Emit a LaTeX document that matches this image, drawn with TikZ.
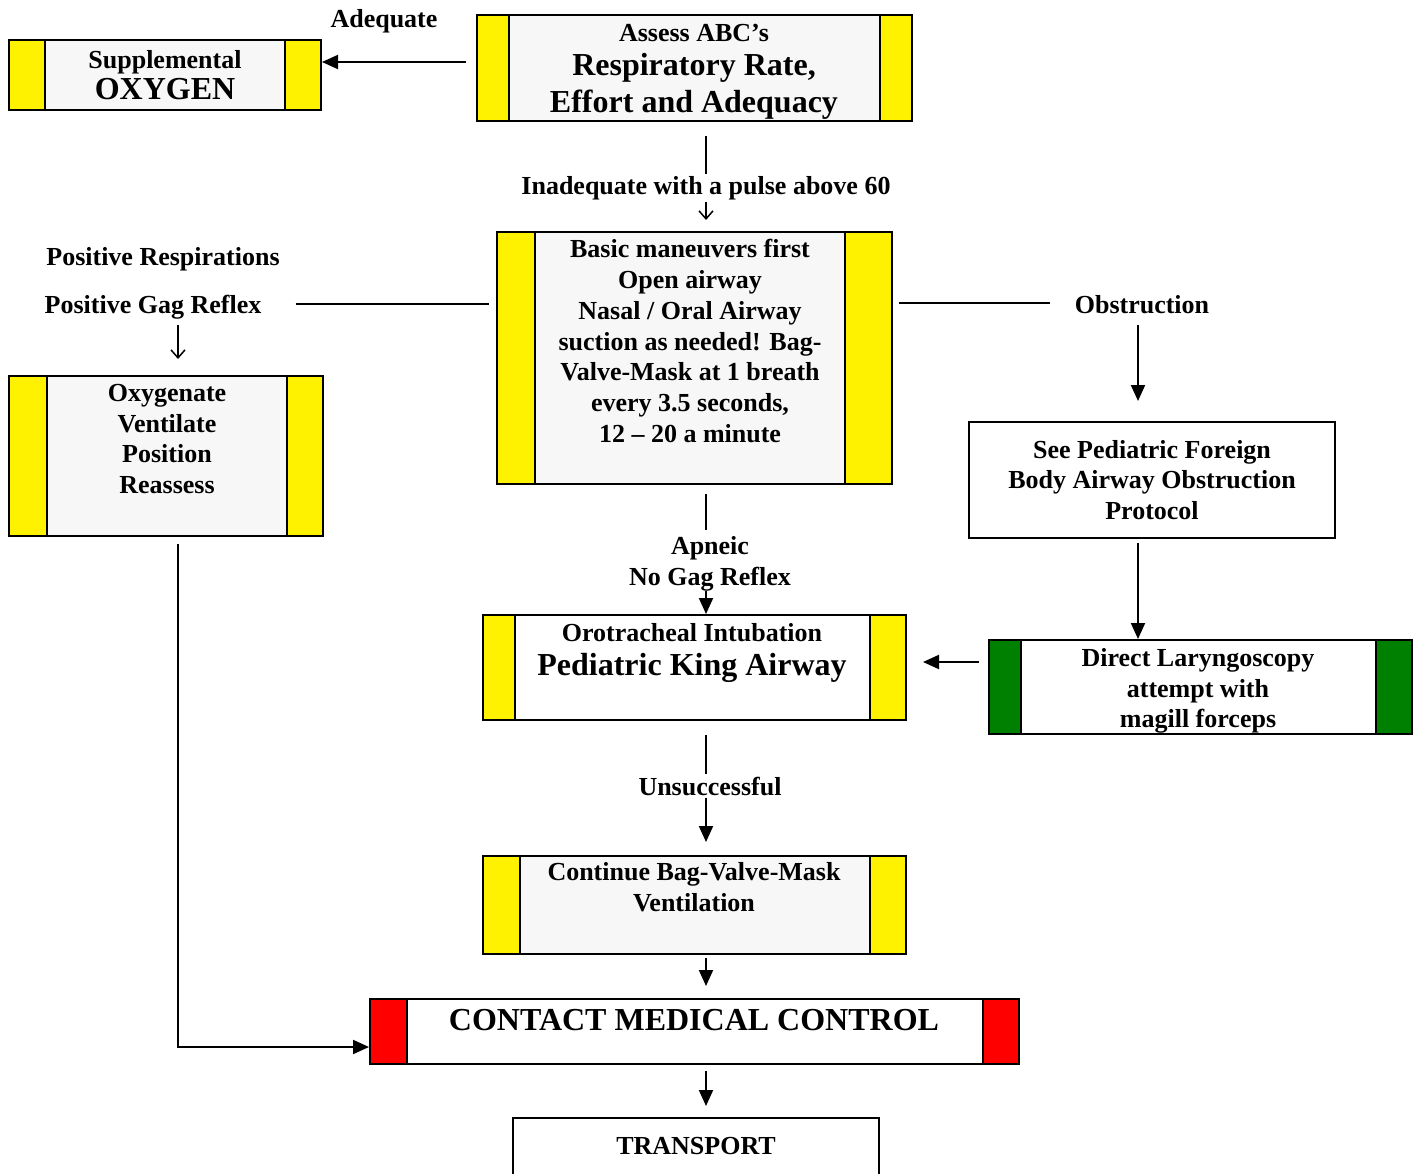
\documentclass[tikz,border=0pt]{standalone}
\usepackage{fontspec}
\setmainfont{Liberation Serif}
\usetikzlibrary{arrows.meta}
\definecolor{boxgray}{HTML}{F7F7F7}
\definecolor{bargreen}{HTML}{008000}
\newcommand{\fsmall}{\fontsize{26}{30.8}\selectfont}
\newcommand{\fbig}{\fontsize{32}{37}\selectfont}

\begin{document}
\begin{tikzpicture}[x=1pt,y=-1pt,
    box/.style={draw,line width=2pt,inner sep=0pt,fill=boxgray},
    bars/.style n args={3}{path picture={
      \draw[fill=#1,line width=2pt] (path picture bounding box.north west) rectangle ([xshift=#2]path picture bounding box.south west);
      \draw[fill=#1,line width=2pt] (path picture bounding box.north east) rectangle ([xshift=-#3]path picture bounding box.south east);}},
    txt/.style={font=\fsmall\bfseries,align=center,inner sep=2pt},
    big/.style={font=\fbig\bfseries,align=center,inner sep=2pt},
    link/.style={line width=1.5pt},
    arr/.style={line width=2pt,-{Triangle[length=16pt,width=14pt]}},
    barb/.style={line width=1.5pt,-{Straight Barb[length=8pt,width=14pt]}}]
    \useasboundingbox (0,0) rectangle (1419,1173);
    \clip (0,0) rectangle (1419,1173);

    % boxes
    \node[box,bars={yellow}{36pt}{36pt},minimum width=312pt,minimum height=70pt] (supp) at (165,75) {};
    \node[box,bars={yellow}{32pt}{32pt},minimum width=435pt,minimum height=106pt] (assess) at (694.5,68) {};
    \node[box,bars={yellow}{38pt}{47pt},minimum width=395pt,minimum height=252pt] (basic) at (694.5,358) {};
    \node[box,bars={yellow}{38pt}{36pt},minimum width=314pt,minimum height=160pt] (oxy) at (166,456) {};
    \node[box,fill=white,minimum width=366pt,minimum height=116pt] (seeped) at (1152,480) {};
    \node[box,fill=white,bars={bargreen}{32pt}{36pt},minimum width=423pt,minimum height=94pt] (direct) at (1200.5,687) {};
    \node[box,fill=white,bars={yellow}{32pt}{36pt},minimum width=423pt,minimum height=105pt] (oro) at (694.5,667.5) {};
    \node[box,bars={yellow}{37pt}{36pt},minimum width=423pt,minimum height=98pt] (cont) at (694.5,905) {};
    \node[box,fill=white,bars={red}{37pt}{36pt},minimum width=649pt,minimum height=65pt] (contact) at (694.5,1031.5) {};
    \node[box,fill=white,minimum width=366pt,minimum height=80pt] (transport) at (696,1158) {};

    % box texts
    \node[txt] (supptxt) at (165,75) {Supplemental\\{\fbig OXYGEN}};
    \node[big] (assesstxt) at (694,72) {{\fsmall Assess ABC’s}\\[-3pt]Respiratory Rate,\\Effort and Adequacy};
    \node[txt] (basictxt) at (690,341) {Basic maneuvers first\\Open airway\\Nasal / Oral Airway\\suction as needed! Bag-\\Valve-Mask at 1 breath\\every 3.5 seconds,\\12 -- 20 a minute};
    \node[txt] (oxytxt) at (167,439) {Oxygenate\\Ventilate\\Position\\Reassess};
    \node[txt] (seepedtxt) at (1152,480) {See Pediatric Foreign\\Body Airway Obstruction\\Protocol};
    \node[txt] (directtxt) at (1198,691) {Direct Laryngoscopy\\attempt with\\magill forceps};
    \node[big] (orotxt) at (692,653.5) {{\fsmall Orotracheal Intubation}\\[-3pt]Pediatric King Airway};
    \node[txt] (conttxt) at (694,887) {Continue Bag-Valve-Mask\\Ventilation};
    \node[big] (contacttxt) at (694,1020) {CONTACT MEDICAL CONTROL};
    \node[txt] (transporttxt) at (696,1146) {TRANSPORT};

    % labels
    \node[txt] (adequate) at (384,21) {Adequate};
    \node[txt] (inadequate) at (706,188) {Inadequate with a pulse above 60};
    \node[txt] (posresp) at (163,259) {Positive Respirations};
    \node[txt] (posgag) at (153,307) {Positive Gag Reflex};
    \node[txt] (obstruction) at (1142,305) {Obstruction};
    \node[txt] (apneic) at (710,564) {Apneic\\No Gag Reflex};
    \node[txt] (unsucc) at (710,786) {Unsuccessful};

    \coordinate (spine) at (706,0);
    \coordinate (gagdown) at (178,325);
    \coordinate (obsdown) at (1138,325);

    % connectors
    \draw[arr] ([xshift=-10pt,yshift=6pt]assess.west) -- ([yshift=13pt]supp.east);
    \draw[link] ([yshift=-14pt]spine |- assess.south) -- (spine |- inadequate.north);
    \draw[barb] (spine |- inadequate.south) -- ([yshift=11pt]spine |- basic.north);
    \draw[link] ([xshift=32pt,yshift=3pt]posgag.east) -- ([xshift=-7pt,yshift=3pt]basic.west |- posgag.east);
    \draw[barb] (gagdown) -- ([yshift=16pt]gagdown |- oxy.north);
    \draw[arr] ([yshift=-7pt]gagdown |- oxy.south) |- ([yshift=-15.5pt]contact.west);
    \draw[link] ([xshift=6pt,yshift=2pt]basic.east |- obstruction.west) -- ([xshift=-23pt,yshift=2pt]obstruction.west);
    \draw[arr] (obsdown) -- ([yshift=20pt]obsdown |- seeped.north);
    \draw[arr] ([yshift=-4pt]obsdown |- seeped.south) -- (obsdown |- direct.north);
    \draw[arr] ([xshift=-9pt,yshift=25pt]direct.west) -- ([xshift=16pt,yshift=5.5pt]oro.east);
    \draw[link] ([yshift=-9pt]spine |- basic.south) -- ([yshift=5pt]spine |- apneic.north);
    \draw[arr] ([yshift=2pt]spine |- apneic.south) -- (spine |- oro.north);
    \draw[link] ([yshift=-14pt]spine |- oro.south) -- (spine |- unsucc.north);
    \draw[arr] (spine |- unsucc.south) -- ([yshift=13pt]spine |- cont.north);
    \draw[arr] ([yshift=-3pt]spine |- cont.south) -- ([yshift=12pt]spine |- contact.north);
    \draw[arr] ([yshift=-6pt]spine |- contact.south) -- ([yshift=11pt]spine |- transport.north);
\end{tikzpicture}
\end{document}
